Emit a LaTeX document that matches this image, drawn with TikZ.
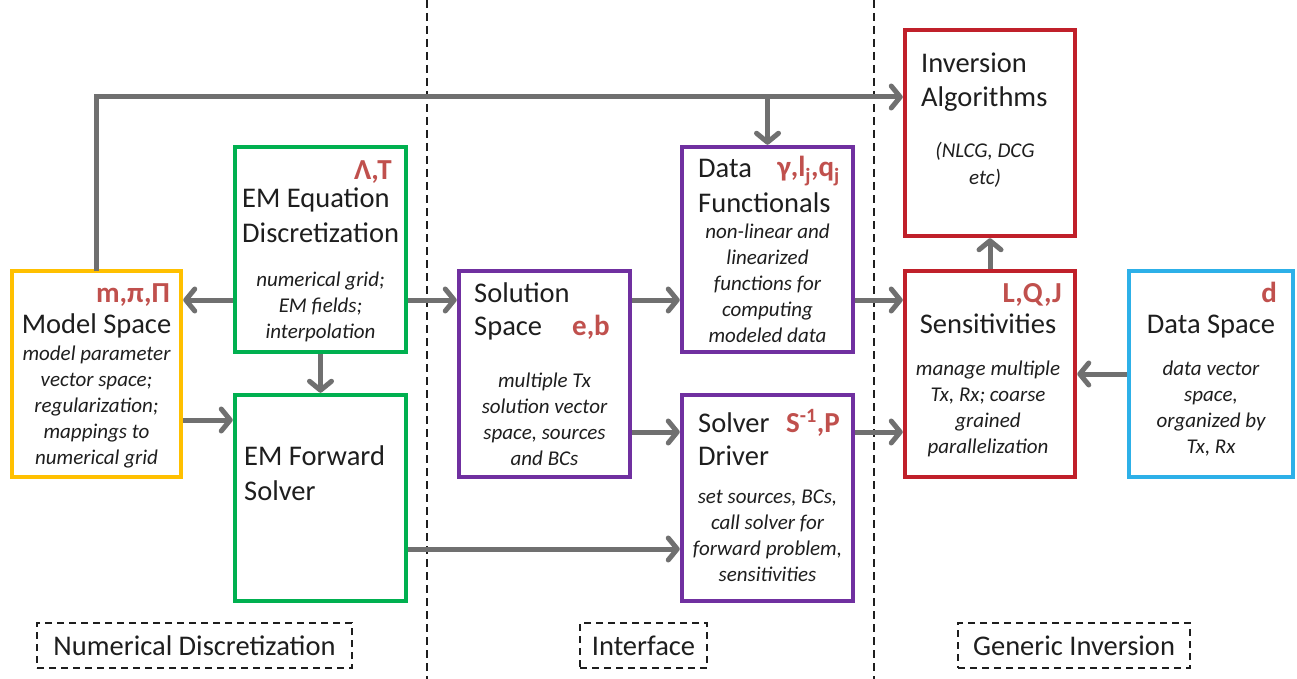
\documentclass[tikz,border=0pt]{standalone}
\usepackage{fontspec}
\setmainfont{Carlito}
\usetikzlibrary{arrows.meta}

\definecolor{msc}{HTML}{FFC000}
\definecolor{emc}{HTML}{00B050}
\definecolor{ifc}{HTML}{7030A0}
\definecolor{invc}{HTML}{C0202A}
\definecolor{dsc}{HTML}{2DB0E8}
\definecolor{symc}{HTML}{C0504D}
\definecolor{arrc}{HTML}{707070}
\definecolor{txtc}{HTML}{1E1E1E}

\tikzset{
  box/.style={draw=#1, line width=4.5pt, inner sep=0pt, outer sep=0pt, fill=white},
  ttl/.style={inner sep=0pt, text=txtc, font=\fontsize{28.5}{35}\selectfont, align=left},
  note/.style={inner sep=0pt, text=txtc, font=\fontsize{21}{26}\selectfont\itshape, align=center},
  sym/.style={inner sep=0pt, text=symc, font=\fontsize{29}{34}\selectfont\bfseries},
  arr/.style={draw=arrc, line width=5pt, shorten <=2.25pt, shorten >=2.25pt,
    -{Straight Barb[length=9pt,width=22pt,round]}},
  sep/.style={draw=txtc, line width=1.6pt, dash pattern=on 8pt off 5pt},
  tag/.style={draw=txtc, line width=2pt, dash pattern=on 7pt off 5pt, inner sep=0pt,
    minimum height=45pt, text=txtc, font=\fontsize{28.5}{34}\selectfont},
}

\begin{document}
\begin{tikzpicture}[x=1pt, y=-1pt]
\useasboundingbox (0,0) rectangle (1297,679);
\fill[white] (0,0) rectangle (1297,679);

% column separators
\coordinate (s1t) at (427,0);   \coordinate (s1b) at (427,679);
\coordinate (s2t) at (874,0);   \coordinate (s2b) at (874,679);
\draw[sep] (s1t) -- (s1b);
\draw[sep] (s2t) -- (s2b);

% blocks
\node[box=msc,  minimum width=169pt, minimum height=206pt] (ms)   at (96.5,374)  {};
\node[box=emc,  minimum width=171pt, minimum height=205pt] (disc) at (320.5,249.5) {};
\node[box=emc,  minimum width=171pt, minimum height=206pt] (fwd)  at (320.5,498) {};
\node[box=ifc,  minimum width=171pt, minimum height=206pt] (sol)  at (544.5,374) {};
\node[box=ifc,  minimum width=171pt, minimum height=205pt] (func) at (767.5,249.5) {};
\node[box=ifc,  minimum width=171pt, minimum height=206pt] (drv)  at (767.5,498) {};
\node[box=invc, minimum width=170pt, minimum height=206pt] (inv)  at (990,133)   {};
\node[box=invc, minimum width=170pt, minimum height=206pt] (sens) at (990,374)   {};
\node[box=dsc,  minimum width=164pt, minimum height=206pt] (ds)   at (1211,374)  {};

% text blocks are anchored at the baseline of their last line

% Model Space
\node[sym, anchor=base east] (mssym) at (170,302) {m,π,Π};
\node[ttl, anchor=base] (mstit) at (96.5,333) {Model Space};
\node[note, anchor=base] (mstxt) at (96.5,464) {model parameter\\vector space;\\regularization;\\mappings to\\numerical grid};

% EM Equation Discretization
\node[sym, anchor=base east] (discsym) at (392,179) {Λ,T};
\node[ttl, anchor=base west] (disctit) at (242,242) {EM Equation\\Discretization};
\node[note, anchor=base] (disctxt) at (320.5,338) {numerical grid;\\EM fields;\\interpolation};

% EM Forward Solver
\node[ttl, anchor=base west] (fwdtit) at (244,500) {EM Forward\\Solver};

% Solution Space
\node[ttl, anchor=base west, font=\fontsize{28.5}{33}\selectfont] (soltit) at (474,335) {Solution\\Space};
\node[sym, anchor=base east] (solsym) at (610,335) {e,b};
\node[note, anchor=base] (soltxt) at (544.5,465) {multiple Tx\\solution vector\\space, sources\\and BCs};

% Data Functionals
\node[ttl, anchor=base west] (functit) at (698,212) {Data\\Functionals};
\node[sym, anchor=base east] (funcsym) at (840,177) {γ,l\textsubscript{j},q\textsubscript{j}};
\node[note, anchor=base] (functxt) at (767.5,342) {non-linear and\\linearized\\functions for\\computing\\modeled data};

% Solver Driver
\node[ttl, anchor=base west, font=\fontsize{28.5}{33}\selectfont] (drvtit) at (698,465) {Solver\\Driver};
\node[sym, anchor=base east] (drvsym) at (840,432) {S\textsuperscript{-1},P};
\node[note, anchor=base] (drvtxt) at (767.5,581) {set sources, BCs,\\call solver for\\forward problem,\\sensitivities};

% Inversion Algorithms
\node[ttl, anchor=base west, font=\fontsize{28.5}{34}\selectfont] (invtit) at (921,107) {Inversion\\Algorithms};
\node[note, anchor=base, font=\fontsize{21}{27}\selectfont\itshape] (invtxt) at (985,185) {(NLCG, DCG\\etc)};

% Sensitivities
\node[sym, anchor=base east] (senssym) at (1062,302) {L,Q,J};
\node[ttl, anchor=base] (senstit) at (988,333) {Sensitivities};
\node[note, anchor=base] (senstxt) at (988,453) {manage multiple\\Tx, Rx; coarse\\grained\\parallelization};

% Data Space
\node[sym, anchor=base east] (dssym) at (1277,302) {d};
\node[ttl, anchor=base] (dstit) at (1211,333) {Data Space};
\node[note, anchor=base] (dstxt) at (1211,453) {data vector\\space,\\organized by\\Tx, Rx};

% column labels
\node[tag, minimum width=315pt] (tnum) at (194.5,645.5) {Numerical Discretization};
\node[tag, minimum width=127pt] (tint) at (643.5,645.5) {Interface};
\node[tag, minimum width=232pt] (tgen) at (1074,645.5) {Generic Inversion};

% connector rows
\coordinate (topy) at (0,97);
\coordinate (ya) at (0,300);
\coordinate (yb) at (0,420);
\coordinate (yc) at (0,432);
\coordinate (yd) at (0,549);

% connectors
\draw[arr, shorten <=0pt] (ms.north) |- (inv.west |- topy);
\draw[arr, shorten <=0pt] (func.north |- topy) -- (func.north);
\draw[arr] (disc.west |- ya) -- (ms.east |- ya);
\draw[arr] (disc.south) -- (fwd.north);
\draw[arr] (ms.east |- yb) -- (fwd.west |- yb);
\draw[arr] (disc.east |- ya) -- (sol.west |- ya);
\draw[arr] (sol.east |- ya) -- (func.west |- ya);
\draw[arr] (sol.east |- yc) -- (drv.west |- yc);
\draw[arr] (fwd.east |- yd) -- (drv.west |- yd);
\draw[arr] (func.east |- ya) -- (sens.west |- ya);
\draw[arr] (drv.east |- yc) -- (sens.west |- yc);
\draw[arr] (sens.north) -- (inv.south);
\draw[arr] (ds.west) -- (sens.east);
\end{tikzpicture}
\end{document}
